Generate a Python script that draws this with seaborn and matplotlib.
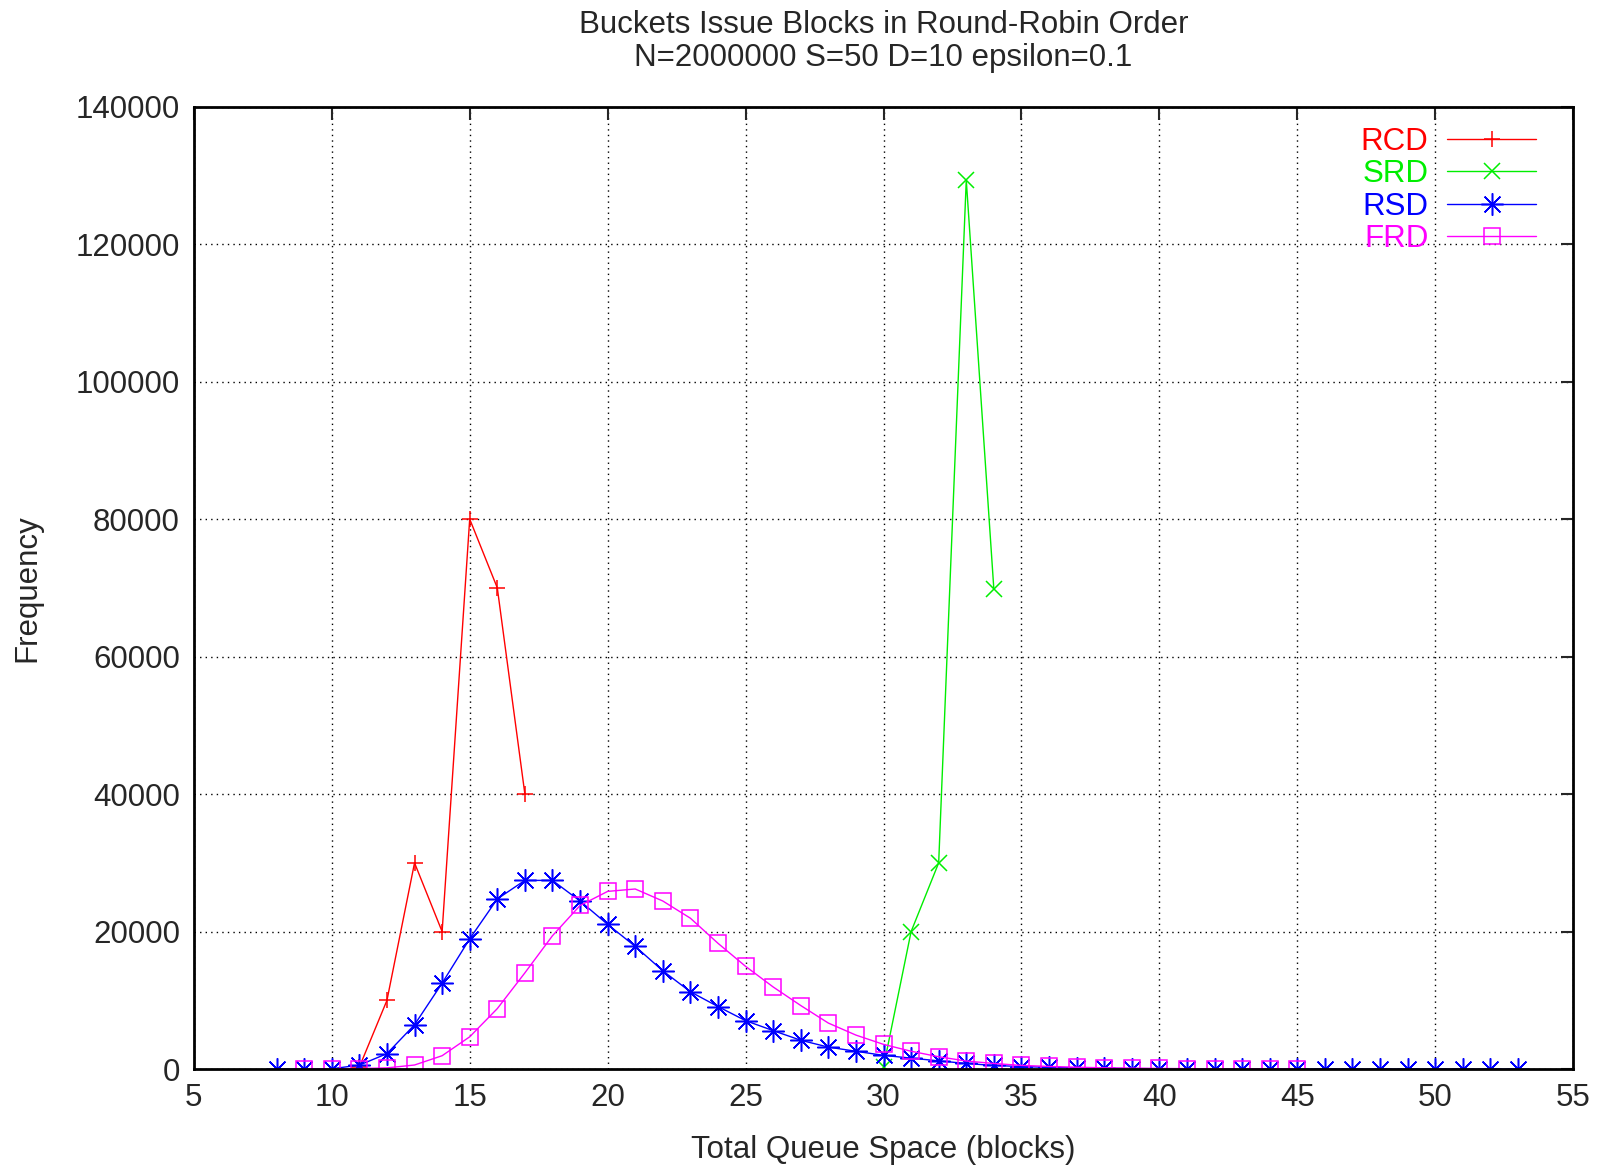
import numpy as np
import pandas as pd
import matplotlib
matplotlib.use("Agg")
import matplotlib.pyplot as plt
import seaborn as sns

# values
rcd_x = [11, 12, 13, 14, 15, 16, 17]
rcd_y = [300, 10000, 30000, 20000, 80000, 70000, 40000]

srd_x = [30, 31, 32, 33, 34]
srd_y = [300, 20000, 30000, 129300, 69800]

rsd_x = list(range(8, 54))
rsd_y = [0, 0, 50, 580, 2250, 6450, 12500, 18950, 24750, 27450, 27450, 24450,
         21050, 17850, 14300, 11250, 9100, 7050, 5600, 4200, 3200, 2600,
         2000, 1600, 1200, 820, 530, 380, 250, 180, 120, 80, 60, 40, 30, 20,
         15, 10, 8, 6, 5, 4, 3, 2, 1, 1]

frd_x = list(range(9, 46))
frd_y = [0, 20, 80, 180, 600, 1950, 4700, 8800, 14000, 19400, 23800, 25850,
         26200, 24450, 21950, 18300, 14950, 11950, 9250, 6700, 4950, 3600,
         2600, 1800, 1180, 820, 540, 390, 280, 190, 140, 100, 70, 50, 35, 25, 15]

series = [
    ("RCD", rcd_x, rcd_y, "#ff0000", "+", 11),
    ("SRD", srd_x, srd_y, "#00ee00", "x", 11),
    ("RSD", rsd_x, rsd_y, "#0000ff", (8, 2, 0), 16),
    ("FRD", frd_x, frd_y, "#ff00ff", "s", 11),
]

sns.set_style("white")
plt.rcParams["font.family"] = ["Liberation Sans", "DejaVu Sans"]

fig, ax = plt.subplots(figsize=(16.02, 11.71), dpi=100)
fig.subplots_adjust(left=0.121, right=0.982, top=0.909, bottom=0.087)

for name, xs, ys, color, mk, ms in series:
    df = pd.DataFrame({"x": xs, "y": ys})
    sns.lineplot(data=df, x="x", y="y", ax=ax, color=color, marker=mk,
                 markersize=ms, linewidth=1.0, label=name,
                 markerfacecolor="none", markeredgecolor=color,
                 markeredgewidth=1.1)

ax.set_xlim(5, 55)
ax.set_ylim(0, 140000)
ax.set_xticks(np.arange(5, 56, 5))
ax.set_yticks(np.arange(0, 140001, 20000))
ax.grid(True, color="black", linestyle=(0, (1, 3)), linewidth=1.0)
ax.tick_params(direction="in", top=True, right=True, length=9, width=1.5,
               labelsize=22.5, pad=10)
for sp in ax.spines.values():
    sp.set_linewidth(2)
    sp.set_color("black")

ax.set_xlabel("Total Queue Space (blocks)", fontsize=22.5, labelpad=16)
ax.set_ylabel("Frequency", fontsize=22.5, labelpad=24)
ax.set_title("Buckets Issue Blocks in Round-Robin Order\nN=2000000 S=50 D=10 epsilon=0.1",
             fontsize=22.5, pad=29, linespacing=1.15)

ax.legend(loc="upper right", bbox_to_anchor=(0.988, 1.0), frameon=False,
          markerfirst=False, labelcolor="linecolor", fontsize=22.5,
          handlelength=2.85, handletextpad=0.6, labelspacing=0.08,
          borderaxespad=0.25)

fig.savefig("out.png", dpi=100)
